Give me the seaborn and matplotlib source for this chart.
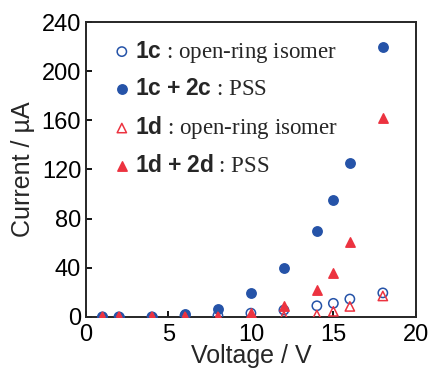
import numpy as np
import pandas as pd
import matplotlib
matplotlib.use("Agg")
import matplotlib.pyplot as plt
import seaborn as sns

# -----------------------------
# Data
# -----------------------------
voltage = [1, 2, 4, 6, 8, 10, 12, 14, 15, 16, 18]
i_1c_open = [0, 0, 0, 1, 1, 3, 5.5, 9, 11, 14.5, 19.5]
i_1c_pss = [0, 0, 0, 2, 6, 19.5, 40, 70, 95, 125, 220]
i_1d_open = [0, 0, 0, 0, 0, 0.5, 0.5, 1.5, 4.5, 8.5, 17]
i_1d_pss = [0, 0, 0, 0, 0, 3, 9, 21.5, 35.5, 61, 162]

labels = [r"$\mathbf{1c}$ : open-ring isomer",
          r"$\mathbf{1c}$ $\mathbf{+}$ $\mathbf{2c}$ : PSS",
          r"$\mathbf{1d}$ : open-ring isomer",
          r"$\mathbf{1d}$ $\mathbf{+}$ $\mathbf{2d}$ : PSS"]

blue = "#2553a8"
red = "#ec3340"

sns.set_style("ticks")
plt.rcParams['mathtext.fontset'] = 'custom'
plt.rcParams['mathtext.bf'] = 'Liberation Sans:bold'
plt.rcParams['mathtext.rm'] = 'Liberation Serif'
plt.rcParams['font.family'] = ['Liberation Sans', 'DejaVu Sans']

fig = plt.figure(figsize=(4.3, 3.68), dpi=100)
ax = fig.add_axes([0.2, 0.139, 0.767, 0.801])

series = [
    (i_1c_open, "o", "none", blue),
    (i_1c_pss, "o", blue, blue),
    (i_1d_open, "^", "none", red),
    (i_1d_pss, "^", red, red),
]
for (vals, mk, fc, ec), lab in zip(series, labels):
    sns.scatterplot(x=voltage, y=vals, marker=mk, facecolor=fc, edgecolor=ec,
                    linewidth=1.1, s=45, label=lab, ax=ax, zorder=3)

ax.set_xlim(0, 20)
ax.set_ylim(0, 240)
ax.set_xticks([0, 5, 10, 15, 20])
ax.set_yticks(np.arange(0, 241, 40))
ax.tick_params(direction="in", length=4, width=1.3, labelsize=17, colors="black",
               top=False, right=False)
ax.tick_params(axis="x", pad=5)
for sp in ax.spines.values():
    sp.set_linewidth(1.4)
    sp.set_visible(True)

ax.set_xlabel("Voltage / V", fontsize=18, labelpad=-1)
ax.set_ylabel("Current / \u00b5A", fontsize=18, labelpad=5)

leg = ax.legend(loc="upper left", bbox_to_anchor=(0.06, 0.975), frameon=False,
                prop={"family": "Liberation Serif", "size": 16.5},
                handletextpad=0.28, handlelength=0.6, labelspacing=0.62,
                borderaxespad=0)

plt.savefig("out.png", dpi=100)
